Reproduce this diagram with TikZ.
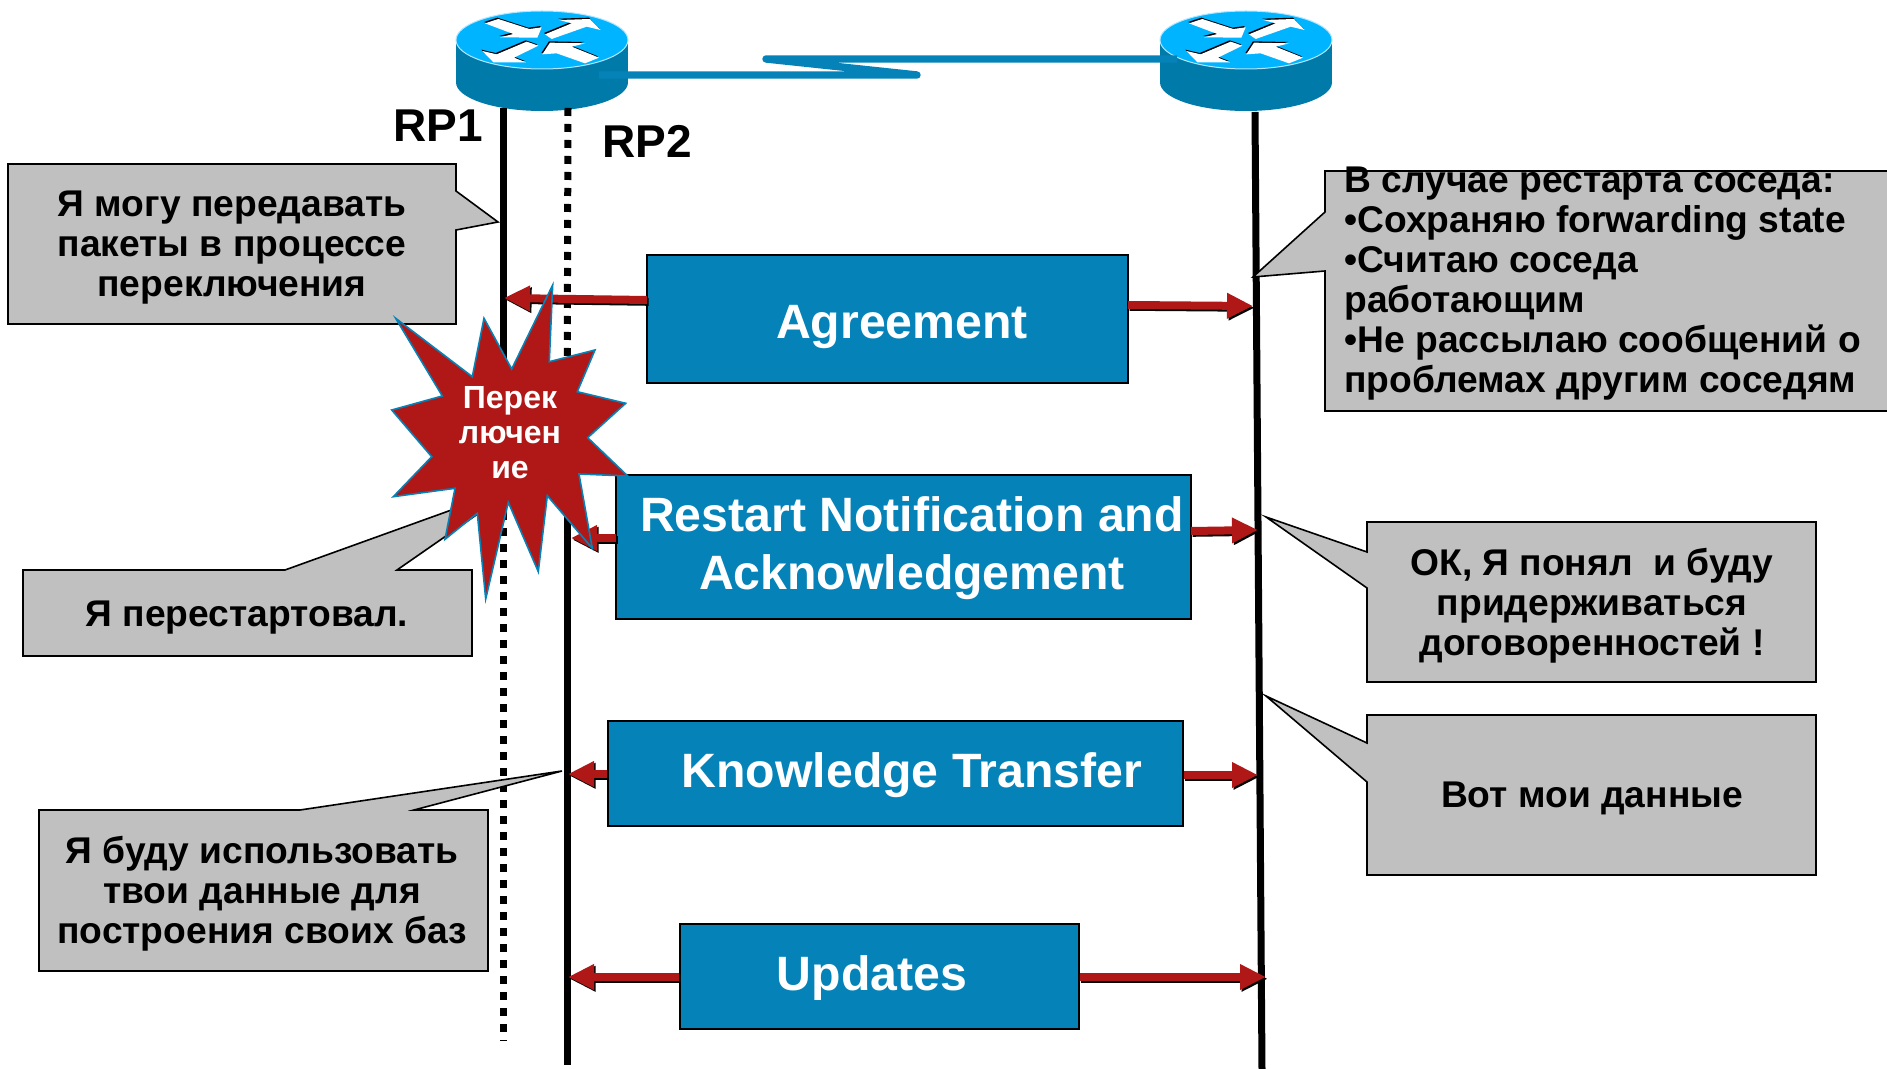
\documentclass[tikz,border=0pt]{standalone}
\usepackage{fontspec}
\setmainfont{Liberation Sans}
\usetikzlibrary{arrows.meta,calc}
\definecolor{boxblue}{HTML}{0583B8}
\definecolor{toppale}{HTML}{00B4FF}
\definecolor{sidedark}{HTML}{007AA9}
\definecolor{darkred}{HTML}{B01818}
\definecolor{calloutgrey}{HTML}{C0C0C0}
\tikzset{
  callout/.style={fill=calloutgrey,draw=black,line width=0.8pt,line join=miter},
  callouttext/.style={inner sep=0pt,align=center,font=\fontsize{18.6}{20}\selectfont\bfseries},
  bluebox/.style={fill=boxblue,draw=black,line width=0.7pt,inner sep=0pt},
  boxtext/.style={inner sep=0pt,align=center,text=white,font=\fontsize{24.1}{29}\selectfont\bfseries},
  rplabel/.style={inner sep=0pt,font=\fontsize{23}{27}\selectfont\bfseries},
  lifeline/.style={line width=3.5pt,black},
  dottedlife/.style={line width=3.5pt,black,dash pattern=on 4pt off 4pt},
  shaft/.style={line width=4pt,-{Triangle[length=13pt,width=12pt]}},
}
\newcommand{\routerart}{%
  \fill[sidedark] (18,105) rectangle (534,232);
  \fill[sidedark] (276,232) ellipse [x radius=258,y radius=86];
  \filldraw[fill=toppale,draw=white!70!toppale,line width=0.5pt] (276,105) ellipse [x radius=258,y radius=87];
  \foreach \shiftx/\shifty/\col in {-3/-4/black,0/0/white}{
    \begin{scope}[shift={(\shiftx,\shifty)}]
    \fill[\col] (105,55)--(145,42)--(238,72)--(275,67)--(262,98)--(150,97)--(190,87)--cycle;
    \fill[\col] (285,88)--(365,55)--(328,45)--(420,42)--(452,75)--(410,65)--(305,102)--cycle;
    \fill[\col] (265,122)--(230,110)--(140,148)--(97,138)--(130,172)--(228,172)--(192,158)--cycle;
    \fill[\col] (277,148)--(300,113)--(405,115)--(365,125)--(447,158)--(405,175)--(320,145)--cycle;
    \end{scope}
  }%
}
\newcommand{\redarrow}[2]{%
  \draw[shaft,black,transform canvas={xshift=0.8pt,yshift=-0.9pt}] (#1) -- (#2);
  \draw[shaft,darkred] (#1) -- (#2);
}
\begin{document}
\begin{tikzpicture}[x=0.5pt,y=-0.5pt]
\useasboundingbox (0,0) rectangle (1887,1069);
\fill[white] (0,0) rectangle (1887,1069);

% routers
\begin{scope}[shift={(450,5)},x=0.16667pt,y=-0.16667pt]\routerart\end{scope}
\begin{scope}[shift={(1154,5)},x=0.16667pt,y=-0.16667pt]\routerart\end{scope}
\coordinate (serA) at (599,75);
\coordinate (serB) at (917,75);
\coordinate (serC) at (766,59);
\coordinate (serD) at (1177,59);
\draw[boxblue,line width=3.7pt,line join=round,line cap=butt] (serA) -- (serB) -- (serC) -- (serD);

% life lines
\coordinate (rp1top) at (503,108);
\coordinate (rp1mid) at (503,400);
\coordinate (rp1end) at (503,1041);
\coordinate (rp2top) at (568,108);
\coordinate (rp2mid) at (567,440);
\coordinate (rp2end) at (567,1065);
\coordinate (nbtop) at (1255,112);
\coordinate (nbend) at (1262,1069);
\draw[lifeline] (rp1top) -- (rp1mid);
\draw[dottedlife] (rp1mid) -- (rp1end);
\draw[dottedlife] (rp2top) -- (rp2mid);
\draw[lifeline] (rp2mid) -- (rp2end);
\draw[lifeline] (nbtop) -- (nbend);
\node[rplabel] (rpa) at (438,126) {RP1};
\node[rplabel] (rpb) at (647,141) {RP2};

% boxes
\node[bluebox,minimum width=240.5pt,minimum height=64pt] (agree) at (887.5,319) {};
\node[bluebox,minimum width=287.5pt,minimum height=72pt] (restart) at (903.5,547) {};
\node[bluebox,minimum width=287.5pt,minimum height=52.5pt] (know) at (895.5,773.5) {};
\node[bluebox,minimum width=199.5pt,minimum height=52.5pt] (upd) at (879.5,976.5) {};
\node[boxtext] (agreeT) at (902,327) {Agreement};
\node[boxtext] (restartT) at (912,548.5) {Restart Notification and\\Acknowledgement};
\node[boxtext] (knowT) at (912,775) {Knowledge Transfer};
\node[boxtext] (updT) at (872,978) {Updates};

% arrows
\coordinate (a1L) at (504,298); \coordinate (a1Ls) at (647,300);
\coordinate (a1R) at (1253,306); \coordinate (a1Rs) at (1128,305);
\coordinate (a2L) at (571,538); \coordinate (a2Ls) at (616,538);
\coordinate (a2R) at (1258,530); \coordinate (a2Rs) at (1191,531);
\coordinate (a3L) at (568,774); \coordinate (a3R) at (1258,775);
\coordinate (a4L) at (568,977); \coordinate (a4R) at (1266,977);
\redarrow{a1Ls}{a1L}
\redarrow{a1Rs}{a1R}
\redarrow{a2Ls}{a2L}
\redarrow{a2Rs}{a2R}
\redarrow{a3L -| know.west}{a3L}
\redarrow{a3R -| know.east}{a3R}
\redarrow{a4L -| upd.west}{a4L}
\redarrow{a4R -| upd.east}{a4R}

% callouts
\draw[callout] (8,164) -- (456,164) -- (456,191) -- (498,222) -- (456,230) -- (456,324) -- (8,324) -- cycle;
\node[callouttext] (c1) at (232,247.5) {Я могу передавать\\пакеты в процессе\\переключения};

\draw[callout] (1325,171) -- (1895,171) -- (1895,411) -- (1325,411) -- (1325,271) -- (1253,277) -- (1325,212) -- cycle;
\node[callouttext,anchor=west,align=left] (c2) at (1344,283.5) {В случае рестарта соседа:\\•Сохраняю forwarding state\\•Считаю соседа\\работающим\\•Не рассылаю сообщений о\\проблемах другим соседям};

\draw[callout] (23,570) -- (285,570) -- (518,486) -- (397,570) -- (472,570) -- (472,656) -- (23,656) -- cycle;
\node[callouttext] (c3) at (247,618) {Я перестартовал.};

\draw[callout] (1367,522) -- (1816,522) -- (1816,682) -- (1367,682) -- (1367,588) -- (1266,517) -- (1367,552) -- cycle;
\node[callouttext] (c4) at (1592,606) {ОК, Я понял\ \ и буду\\придерживаться\\договоренностей !};

\draw[callout] (1367,715) -- (1816,715) -- (1816,875) -- (1367,875) -- (1367,782) -- (1266,696) -- (1367,743) -- cycle;
\node[callouttext] (c5) at (1592,798) {Вот мои данные};

\draw[callout] (39,810) -- (300,810) -- (562,771) -- (414,810) -- (488,810) -- (488,971) -- (39,971) -- cycle;
\node[callouttext] (c6) at (262,894) {Я буду использовать\\твои данные для\\построения своих баз};

% star
\filldraw[fill=darkred,draw=boxblue,line width=0.8pt,line join=miter]
 (552.7,285)--(549.3,361.7)--(595,350)--(577.3,391.7)--(625.7,403.3)--(587.7,437.7)--(627.7,476)--(579,474)--(592.3,548.3)--(547.3,495.7)--(538.3,571.7)--(508.3,502.3)--(485.7,599)--(477.3,513.3)--(445,539.3)--(455,488.3)--(393.3,496.7)--(431.7,456.7)--(391.7,410)--(442.3,396)--(395.7,318.3)--(472.3,376.7)--(484,318.3)--(511.7,369)--cycle;
\node[inner sep=0pt,align=center,text=white,font=\fontsize{16}{17.5}\selectfont\bfseries] (star) at (510,433) {Перек\\лючен\\ие};
\end{tikzpicture}
\end{document}
